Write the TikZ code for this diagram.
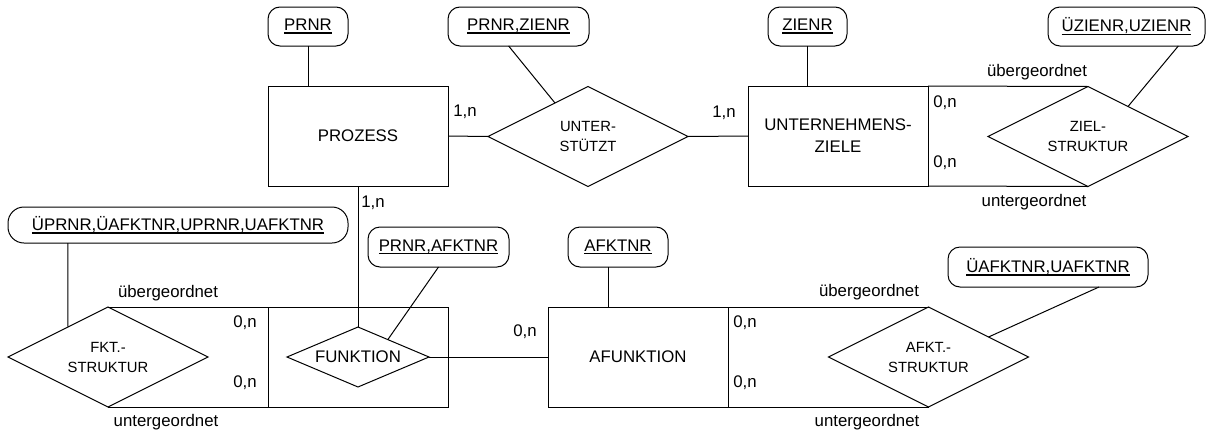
\documentclass[tikz,border=0pt]{standalone}
\usepackage{fontspec}
\setmainfont{Liberation Sans}
\usetikzlibrary{shapes.geometric,calc}
% underlined key attribute
\newcommand\keyul[1]{\leavevmode\setbox0=\hbox{#1}\rlap{\rule[-3.2pt]{\wd0}{1.4pt}}\box0}
\begin{document}
\begin{tikzpicture}[x=1pt,y=-1pt,line width=1pt,
  every node/.style={inner sep=0pt,outer sep=0pt,font=\fontsize{16.8}{22}\selectfont},
  entity/.style={draw,rectangle,minimum width=180pt,minimum height=100pt,align=center},
  relbig/.style={draw,diamond,shape aspect=2,minimum width=200pt,minimum height=100pt,align=center,
    font=\fontsize{14.8}{20}\selectfont},
  relsmall/.style={draw,diamond,shape aspect=2.37,minimum width=142pt,minimum height=60pt,align=center},
  attr/.style={draw,rectangle,rounded corners=12pt,minimum height=39pt}]
\useasboundingbox (0,0) rectangle (1206,434);

% ---------- upper row ----------
\node[entity] (prozess) at (358,136) {PROZESS};
\node[relbig] (unter) at (588,136.5) {UNTER-\\STÜTZT};
\node[entity] (uziele) at (838,136) {UNTERNEHMENS-\\ZIELE};
\node[relbig] (zstr) at (1088,136.5) {ZIEL-\\STRUKTUR};

\node[attr,minimum width=80pt] (prnr) at (308,26.5) {\keyul{PRNR}};
\node[attr,minimum width=141pt] (pzkey) at (518.5,26.5) {\keyul{PRNR,ZIENR}};
\node[attr,minimum width=79pt] (zienr) at (807.5,26.5) {\keyul{ZIENR}};
\node[attr,minimum width=157pt] (zkey) at (1126.5,26.5) {\keyul{ÜZIENR,UZIENR}};

% ---------- lower row ----------
\node[relbig] (fstr) at (108,357) {FKT.-\\STRUKTUR};
\node[draw,rectangle,minimum width=180pt,minimum height=100pt] (fbox) at (358,357) {};
\node[relsmall] (funk) at (358,357) {FUNKTION};
\node[entity] (afunk) at (638,357) {AFUNKTION};
\node[relbig] (astr) at (928.5,357) {AFKT.-\\STRUKTUR};

\node[attr,rounded corners=16pt,minimum width=340pt,minimum height=36pt] (fkey) at (178,225)
  {\keyul{ÜPRNR,ÜAFKTNR,UPRNR,UAFKTNR}};
\node[attr,minimum width=141pt,minimum height=40pt] (pakey) at (438.5,247) {\keyul{PRNR,AFKTNR}};
\node[attr,minimum width=100pt,minimum height=40pt] (afktnr) at (618,247) {\keyul{AFKTNR}};
\node[attr,minimum width=200pt,minimum height=40pt] (akey) at (1048,267) {\keyul{ÜAFKTNR,UAFKTNR}};

% ---------- connectors: upper row ----------
\draw (prnr.south) -- (prnr.south |- prozess.north);
\draw (zienr.south) -- (zienr.south |- uziele.north);
\draw (prozess.east) -- (unter.west);
\draw (unter.east) -- (uziele.west);
\draw ($(pzkey.south west)!0.43!(pzkey.south east)$) -- ($(unter.west)!0.67!(unter.north)$);
\draw (uziele.north east) -- (zstr.north);
\draw (uziele.south east) -- (zstr.south);
\draw ($(zkey.south west)!0.83!(zkey.south east)$) -- ($(zstr.north)!0.4!(zstr.east)$);

% ---------- connectors: lower row ----------
\draw (prozess.south) -- (funk.north);
\draw (fstr.north) -- (fbox.north west);
\draw (fstr.south) -- (fbox.south west);
\draw ($(fkey.south west)!0.176!(fkey.south east)$) -- ($(fstr.west)!0.6!(fstr.north)$);
\draw (pakey.south) -- ($(funk.north)!0.42!(funk.east)$);
\draw (funk.east) -- (afunk.west);
\draw ($(afktnr.south west)!0.4!(afktnr.south east)$) coordinate (ak)
  -- (ak |- afunk.north);
\draw (afunk.north east) -- (astr.north);
\draw (afunk.south east) -- (astr.south);
\draw ($(akey.south west)!0.755!(akey.south east)$) -- ($(astr.north)!0.6!(astr.east)$);

% ---------- cardinalities and roles ----------
\node (c1) at (465,112) {1,n};
\node (c2) at (724,113) {1,n};
\node (c3) at (373,203) {1,n};
\node (c4) at (945,103) {0,n};
\node (c5) at (945,163) {0,n};
\node (c6) at (245,323) {0,n};
\node (c7) at (245,383) {0,n};
\node (c8) at (525,332) {0,n};
\node (c9) at (745,323) {0,n};
\node (c10) at (745,383) {0,n};
\node (r1) at (1037,72) {übergeordnet};
\node (r2) at (1034,202) {untergeordnet};
\node (r3) at (168,293) {übergeordnet};
\node (r4) at (166,422) {untergeordnet};
\node (r5) at (869,292) {übergeordnet};
\node (r6) at (867,422) {untergeordnet};
\end{tikzpicture}
\end{document}
